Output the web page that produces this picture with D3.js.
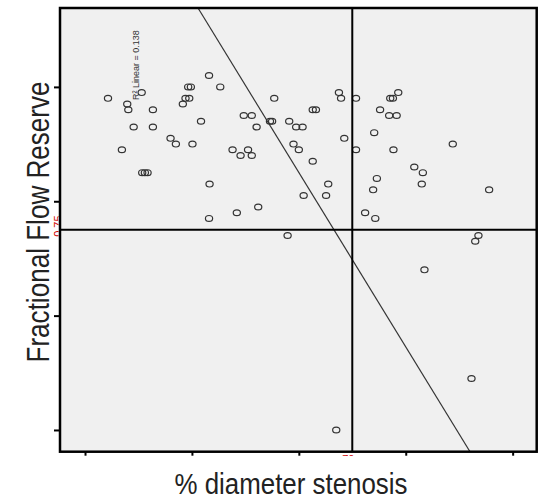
<!DOCTYPE html>
<html>
<head>
<meta charset="utf-8">
<script src="https://cdn.jsdelivr.net/npm/d3@7"></script>
<style>
  body { margin: 0; background: #fff; }
  svg { display: block; font-family: "Liberation Sans", Arial, sans-serif; }
</style>
</head>
<body>
<svg width="539" height="501"></svg>
<script>
// % diameter stenosis vs FFR
var stenosis = [43.2, 39.3, 39.8, 45.3, 24.3, 30.6, 27.9, 28.1, 32.7, 38.8,
  39.5, 38.3, 41.7, 29.1, 32.7, 36.0, 37.0, 40.1, 26.9, 47.6,
  49.7, 51.2, 52.1, 49.1, 50.5, 51.2, 30.7, 31.2, 31.7, 43.3,
  43.2, 48.4, 52.4, 54.6, 55.0, 55.4, 58.2, 59.5, 60.7, 67.5,
  67.9, 70.7, 62.6, 63.2, 68.5, 59.0, 60.0, 70.7, 62.6, 65.5,
  60.9, 65.1, 72.4, 74.3, 57.9, 78.6, 77.1, 77.6, 75.2, 76.9,
  78.3, 74.1, 77.7, 88.8, 81.6, 83.2, 83.0, 74.6, 73.9, 95.6,
  93.6, 93.0, 83.5, 92.3, 67.0];
var ffr = [1.02, 1.00, 1.00, 1.00, 0.98, 0.99, 0.97, 0.96, 0.96, 0.98,
  0.98, 0.97, 0.94, 0.93, 0.93, 0.91, 0.90, 0.90, 0.89, 0.89,
  0.95, 0.95, 0.93, 0.88, 0.89, 0.88, 0.85, 0.85, 0.85, 0.83,
  0.77, 0.78, 0.79, 0.94, 0.94, 0.98, 0.94, 0.93, 0.93, 0.99,
  0.98, 0.98, 0.96, 0.96, 0.91, 0.90, 0.89, 0.89, 0.87, 0.83,
  0.81, 0.81, 0.78, 0.77, 0.74, 0.99, 0.98, 0.98, 0.96, 0.95,
  0.95, 0.92, 0.89, 0.90, 0.86, 0.85, 0.83, 0.84, 0.82, 0.82,
  0.74, 0.73, 0.68, 0.49, 0.40];

var xTicks = [20, 40, 60, 80, 100];
var yTicks = [0.4, 0.6, 0.8, 1.0];
var cutX = 70;      // stenosis cut-off
var cutY = 0.75;    // FFR cut-off
var fitIntercept = 1.7654, fitSlope = -0.01525;
var fitLabel = "R\u00b2 Linear = 0.138";

var svg = d3.select('svg');
var plotL = 60, plotR = 536.7, plotT = 8, plotB = 451.7;

var x = d3.scaleLinear().domain([15.32, 104.5]).range([plotL, plotR]);
var y = d3.scaleLinear().domain([0.362, 1.138]).range([plotB, plotT]);

svg.append('rect')
    .attr('x', plotL).attr('y', plotT)
    .attr('width', plotR - plotL).attr('height', plotB - plotT)
    .style('fill', '#f0f0f0');

// clipped red labels peeking out from behind the axes
var defs = svg.append('defs');
defs.append('clipPath').attr('id', 'clipY')
  .append('rect').attr('x', 52.5).attr('y', 200).attr('width', 6).attr('height', 50);
defs.append('clipPath').attr('id', 'clipX')
  .append('rect').attr('x', 330).attr('y', 452).attr('width', 40).attr('height', 4);

svg.append('g').attr('clip-path', 'url(#clipY)')
  .append('text')
    .attr('transform', 'translate(' + 62 + ',' + (y(cutY) + 7) + ')rotate(-90)')
    .style('font-size', '11px').style('fill', '#d00000')
    .text('0.75');
svg.append('g').attr('clip-path', 'url(#clipX)')
  .append('text')
    .attr('x', x(cutX) - 4).attr('y', 463)
    .attr('text-anchor', 'middle')
    .style('font-size', '11px').style('fill', '#d00000')
    .text('70');

svg.append('g')
  .selectAll('ellipse')
  .data(stenosis)
  .enter()
  .append('ellipse')
    .attr('cx', function(d) { return x(d); })
    .attr('cy', function(d, i) { return y(ffr[i]); })
    .attr('rx', 3.6).attr('ry', 2.9)
    .style('fill', 'none')
    .style('stroke', '#333')
    .style('stroke-width', 1.2);

// fit line, cut to the plot box
var fx1 = (y.domain()[1] - fitIntercept) / fitSlope;
var fx2 = (y.domain()[0] - fitIntercept) / fitSlope;
svg.append('line')
    .attr('x1', x(fx1)).attr('y1', y(fitIntercept + fitSlope * fx1))
    .attr('x2', x(fx2)).attr('y2', y(fitIntercept + fitSlope * fx2))
    .style('stroke', '#333').style('stroke-width', 1.2);

svg.append('line')
    .attr('x1', x(cutX)).attr('x2', x(cutX))
    .attr('y1', plotT).attr('y2', plotB)
    .style('stroke', '#000').style('stroke-width', 2);
svg.append('line')
    .attr('x1', plotL).attr('x2', plotR)
    .attr('y1', y(cutY)).attr('y2', y(cutY))
    .style('stroke', '#000').style('stroke-width', 2);

svg.append('text')
    .attr('transform', 'translate(139,100)rotate(-90)')
    .style('font-size', '9px').style('fill', '#333')
    .text(fitLabel);

var xAxis = d3.axisBottom(x).tickValues(xTicks).tickSize(4).tickFormat('');
svg.append('g')
    .attr('class', 'x axis')
    .attr('transform', 'translate(0,' + plotB + ')')
    .call(xAxis);

var yAxis = d3.axisLeft(y).tickValues(yTicks).tickSize(6).tickFormat('');
svg.append('g')
    .attr('class', 'y axis')
    .attr('transform', 'translate(' + plotL + ',0)')
    .call(yAxis);

svg.selectAll('.axis .domain').remove();
svg.selectAll('.axis line').style('stroke', '#000').style('stroke-width', 2);

svg.append('rect')
    .attr('x', plotL).attr('y', plotT)
    .attr('width', plotR - plotL).attr('height', plotB - plotT)
    .style('fill', 'none').style('stroke', '#000').style('stroke-width', 2.5);

svg.append('text')
    .attr('class', 'x label')
    .attr('x', 291).attr('y', 494)
    .attr('text-anchor', 'middle')
    .attr('textLength', 233).attr('lengthAdjust', 'spacingAndGlyphs')
    .style('font-size', '29px').style('fill', '#222')
    .text('% diameter stenosis');

svg.append('text')
    .attr('class', 'y label')
    .attr('transform', 'translate(49,222)rotate(-90)')
    .attr('text-anchor', 'middle')
    .attr('textLength', 281).attr('lengthAdjust', 'spacingAndGlyphs')
    .style('font-size', '31px').style('fill', '#222')
    .text('Fractional Flow Reserve');
</script>
</body>
</html>
